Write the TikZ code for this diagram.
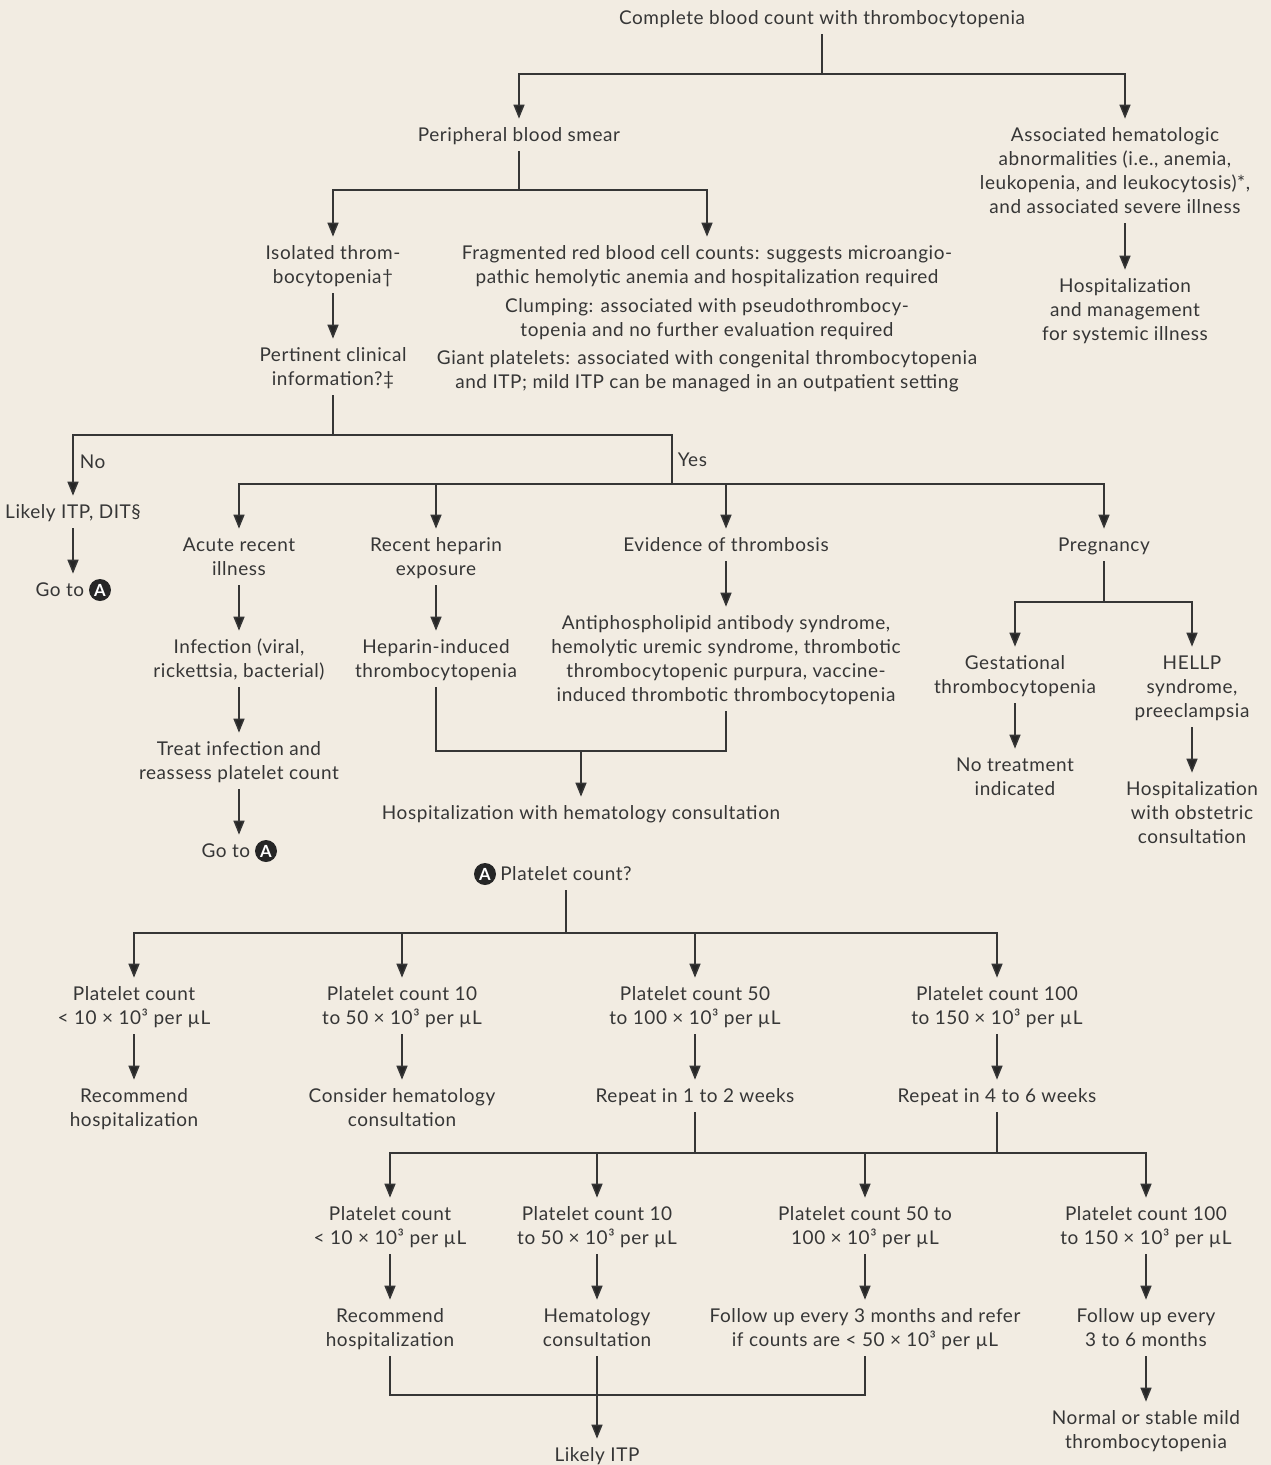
\documentclass[tikz,border=0pt]{standalone}
\usepackage{fontspec}
\setmainfont[LetterSpace=3]{Lato}
\usetikzlibrary{arrows.meta,positioning}
\definecolor{bg}{HTML}{F2ECE2}
\definecolor{ink}{HTML}{363636}
\definecolor{tip}{HTML}{262626}
\newcommand\stl{\rule[-0.11cm]{0pt}{0.48cm}}
\tikzset{
  txt/.style={align=center, inner xsep=2pt, inner ysep=0.08cm, text=ink,
    font=\fontsize{10.8pt}{0.48cm}\selectfont,
    execute at begin node=\stl, execute at end node=\stl},
  ln/.style={line width=0.03cm, draw=ink},
  arr/.style={ln, -{Triangle[length=0.28cm,width=0.22cm,fill=tip]}},
  circ/.style={circle, fill=tip, text=white, inner sep=0pt, minimum size=0.44cm,
    font=\fontsize{9.5pt}{10pt}\selectfont\bfseries},
}
\begin{document}
\begin{tikzpicture}[x=0.02cm,y=-0.02cm]
\fill[bg] (0,0) rectangle (1271,1465);
\useasboundingbox (0,0) rectangle (1271,1465);

% top level
\node[txt] (cbc) at (822,18) {Complete blood count with thrombocytopenia};
\node[txt] (pbs) at (519,135) {Peripheral blood smear};
\node[txt] (assoc) at (1115,171) {\stl Associated hematologic\\abnormalities (i.e., anemia,\\leukopenia, and leukocytosis)*,\\and associated severe illness};
\node[txt] (hosp1) at (1125,310) {\stl Hospitalization\\and management\\for systemic illness};

\node[txt] (iso) at (333,265) {\stl Isolated throm-\\bocytopenia†};
\node[txt] (frag) at (707,265) {\stl Fragmented red blood cell counts: suggests microangio-\\pathic hemolytic anemia and hospitalization required};
\node[txt] (clump) at (707,318) {\stl Clumping: associated with pseudothrombocy-\\topenia and no further evaluation required};
\node[txt] (giant) at (707,370) {\stl Giant platelets: associated with congenital thrombocytopenia\\and ITP; mild ITP can be managed in an outpatient setting};
\node[txt] (pert) at (333,367) {\stl Pertinent clinical\\information?‡};

\node[txt, anchor=west] (no) at (76,462) {No};
\node[txt, anchor=west] (yes) at (674,460) {Yes};

\node[txt] (likely) at (73,512) {Likely ITP, DIT§};
\node[circ] (cA1) at (100,590) {A};
\node[txt, anchor=east] (goA1) at (88,590) {Go to};

\node[txt] (acute) at (239,557) {\stl Acute recent\\illness};
\node[txt] (infect) at (239,659) {\stl Infection (viral,\\rickettsia, bacterial)};
\node[txt] (treat) at (239,761) {\stl Treat infection and\\reassess platelet count};
\node[circ] (cA2) at (266,851) {A};
\node[txt, anchor=east] (goA2) at (254,851) {Go to};

\node[txt] (hep) at (436,557) {\stl Recent heparin\\exposure};
\node[txt] (hit) at (436,659) {\stl Heparin-induced\\thrombocytopenia};
\node[txt] (evid) at (726,545) {Evidence of thrombosis};
\node[txt] (aps) at (726,659) {\stl Antiphospholipid antibody syndrome,\\hemolytic uremic syndrome, thrombotic\\thrombocytopenic purpura, vaccine-\\induced thrombotic thrombocytopenia};
\node[txt] (hosph) at (581,813) {Hospitalization with hematology consultation};

\node[txt] (preg) at (1104,545) {Pregnancy};
\node[txt] (gest) at (1015,675) {\stl Gestational\\thrombocytopenia};
\node[txt] (notreat) at (1015,777) {\stl No treatment\\indicated};
\node[txt] (hellp) at (1192,687) {\stl HELLP\\syndrome,\\preeclampsia};
\node[txt] (hospob) at (1192,813) {\stl Hospitalization\\with obstetric\\consultation};

% A section
\node[txt] (plc) at (566,874) {Platelet count?};
\node[circ] (cA3) at (485,874) {A};

\node[txt] (p1) at (134,1006) {\stl Platelet count\\< 10 × 10³ per µL};
\node[txt] (p2) at (402,1006) {\stl Platelet count 10\\to 50 × 10³ per µL};
\node[txt] (p3) at (695,1006) {\stl Platelet count 50\\to 100 × 10³ per µL};
\node[txt] (p4) at (997,1006) {\stl Platelet count 100\\to 150 × 10³ per µL};

\node[txt] (r1) at (134,1108) {\stl Recommend\\hospitalization};
\node[txt] (r2) at (402,1108) {\stl Consider hematology\\consultation};
\node[txt] (r3) at (695,1096) {Repeat in 1 to 2 weeks};
\node[txt] (r4) at (997,1096) {Repeat in 4 to 6 weeks};

\node[txt] (q1) at (390,1226) {\stl Platelet count\\< 10 × 10³ per µL};
\node[txt] (q2) at (597,1226) {\stl Platelet count 10\\to 50 × 10³ per µL};
\node[txt] (q3) at (865,1226) {\stl Platelet count 50 to\\100 × 10³ per µL};
\node[txt] (q4) at (1146,1226) {\stl Platelet count 100\\to 150 × 10³ per µL};

\node[txt] (s1) at (390,1328) {\stl Recommend\\hospitalization};
\node[txt] (s2) at (597,1328) {\stl Hematology\\consultation};
\node[txt] (s3) at (865,1328) {\stl Follow up every 3 months and refer\\if counts are < 50 × 10³ per µL};
\node[txt] (s4) at (1146,1328) {\stl Follow up every\\3 to 6 months};

\node[txt] (litp) at (597,1455) {Likely ITP};
\node[txt] (norm) at (1146,1430) {\stl Normal or stable mild\\thrombocytopenia};

% junctions
\coordinate (j1) at (822,74);
\coordinate (j1b) at (519,190);
\coordinate (j2) at (333,435);
\coordinate (j3) at (672,484);
\coordinate (j4) at (581,751);
\coordinate (j5) at (1104,602);
\coordinate (j6) at (566,933);
\coordinate (j7a) at (695,1153);
\coordinate (j7b) at (997,1153);
\coordinate (j8) at (597,1395);

% connectors
\draw[ln] (cbc) -- (j1);
\draw[arr] (j1) -| (pbs);
\draw[arr] (j1) -| (hosp1.north |- assoc.north);
\draw[arr] (hosp1.north |- assoc.south) -- (hosp1);

\draw[ln] (pbs) -- (j1b);
\draw[arr] (j1b) -| (iso);
\draw[arr] (j1b) -| (frag);
\draw[arr] (iso) -- (pert);

\draw[ln] (pert) -- (j2);
\draw[arr] (j2) -| (likely);
\draw[ln] (j2) -| (j3);
\draw[arr] (j3) -| (acute);
\draw[arr] (j3) -| (hep);
\draw[arr] (j3) -| (evid);
\draw[arr] (j3) -| (preg);

\draw[arr] (likely) -- (likely.south |- goA1.north);
\draw[arr] (acute) -- (infect);
\draw[arr] (infect) -- (treat);
\draw[arr] (treat) -- (treat.south |- goA2.north);

\draw[arr] (hep) -- (hit);
\draw[arr] (evid) -- (aps);
\draw[ln] (hit) |- (j4) -| (aps);
\draw[arr] (j4) -- (hosph);

\draw[ln] (preg) -- (j5);
\draw[arr] (j5) -| (gest);
\draw[arr] (j5) -| (hellp);
\draw[arr] (gest) -- (notreat);
\draw[arr] (hellp) -- (hospob);

\draw[ln] (plc) -- (j6);
\draw[arr] (j6) -| (p1);
\draw[arr] (j6) -| (p2);
\draw[arr] (j6) -| (p3);
\draw[arr] (j6) -| (p4);
\draw[arr] (p1) -- (r1);
\draw[arr] (p2) -- (r2);
\draw[arr] (p3) -- (r3);
\draw[arr] (p4) -- (r4);

\draw[ln] (r3) -- (j7a);
\draw[ln] (r4) -- (j7b);
\draw[ln] (j7a) -- (j7b);
\draw[arr] (j7a) -| (q1);
\draw[arr] (j7a) -| (q2);
\draw[arr] (j7b) -| (q3);
\draw[arr] (j7b) -| (q4);
\draw[arr] (q1) -- (s1);
\draw[arr] (q2) -- (s2);
\draw[arr] (q3) -- (s3);
\draw[arr] (q4) -- (s4);

\draw[ln] (s1) |- (j8) -| (s3);
\draw[arr] (s2) -- (litp);
\draw[arr] (s4) -- (norm);
\end{tikzpicture}
\end{document}
